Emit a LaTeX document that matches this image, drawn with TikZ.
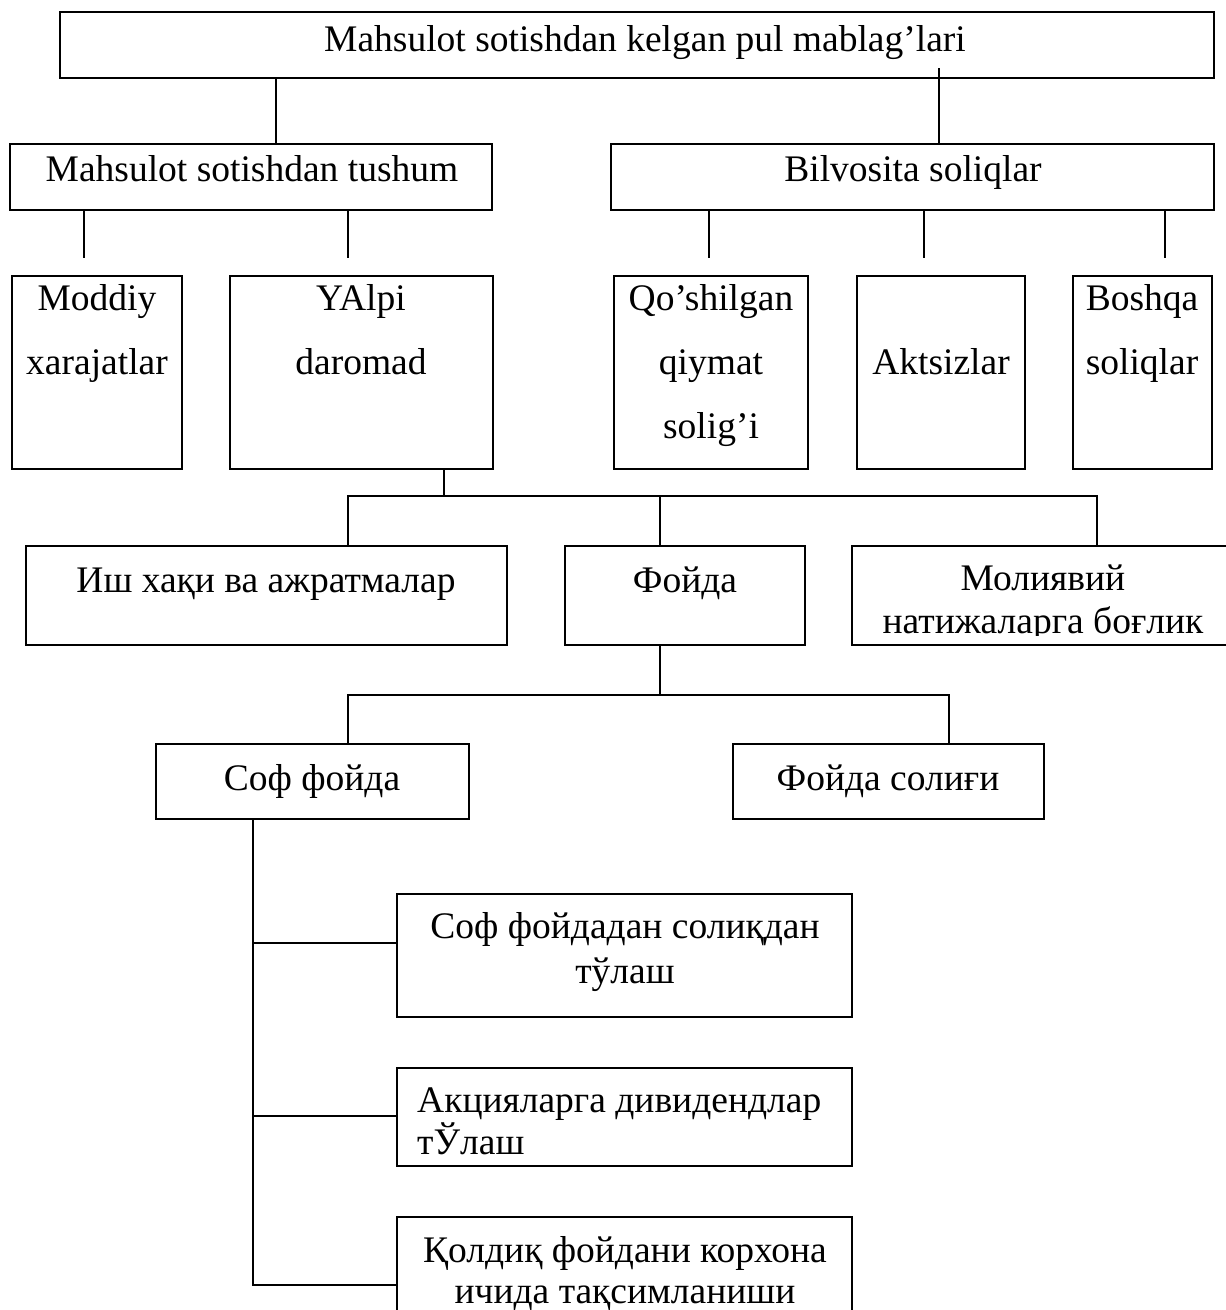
\documentclass[tikz,border=0pt]{standalone}
\usepackage{fontspec}
\setmainfont{Liberation Serif}
\begin{document}
\begin{tikzpicture}[x=1pt,y=-1pt,
  frame/.style={draw=black,line width=2pt,inner sep=0pt,outer sep=0pt,anchor=north west},
  link/.style={draw=black,line width=1.5pt},
  txt/.style={anchor=base,inner sep=0pt,font=\fontsize{37.5}{44}\selectfont},
  txtl/.style={txt,anchor=base west}]
% frame box: name, left, top, right, bottom
\newcommand\blk[5]{\node[frame,minimum width={#4-#2},minimum height={#5-#3}] (#1) at (#2,#3) {};}
% one line of text on its baseline: name, x, y, text
\newcommand\tline[4]{\node[txt] (#1) at (#2,#3) {#4};}
\clip (0,0) rectangle (1226,1310);
\fill[white] (0,0) rectangle (1226,1310);

% ---- level 1
\blk{top}{60}{12}{1214}{78}
\tline{topT}{645}{51}{Mahsulot sotishdan kelgan pul mablag’lari}

% ---- level 2
\blk{tushum}{10}{144}{492}{210}
\tline{tushumT}{252}{181}{Mahsulot sotishdan tushum}
\blk{bilv}{611}{144}{1214}{210}
\tline{bilvT}{913}{181}{Bilvosita soliqlar}

% ---- level 3
\blk{moddiy}{12}{276}{182}{469}
\tline{moddiyA}{97}{310}{Moddiy}
\tline{moddiyB}{97}{374}{xarajatlar}
\blk{yalpi}{230}{276}{493}{469}
\tline{yalpiA}{361}{310}{YAlpi}
\tline{yalpiB}{361}{374}{daromad}
\blk{qqs}{614}{276}{808}{469}
\tline{qqsA}{711}{310}{Qo’shilgan}
\tline{qqsB}{711}{374}{qiymat}
\tline{qqsC}{711}{438}{solig’i}
\blk{akts}{857}{276}{1025}{469}
\tline{aktsA}{941}{374}{Aktsizlar}
\blk{boshqa}{1073}{276}{1212}{469}
\tline{boshqaA}{1142}{310}{Boshqa}
\tline{boshqaB}{1142}{374}{soliqlar}

% ---- level 4
\blk{ish}{26}{546}{507}{645}
\tline{ishT}{266}{592}{Иш хақи ва ажратмалар}
\blk{foyda}{565}{546}{805}{645}
\tline{foydaT}{685}{592}{Фойда}
\blk{mol}{852}{546}{1240}{645}
\begin{scope}
  \clip (852,546) rectangle (1226,635);
  \tline{molA}{1043}{590}{Молиявий}
  \tline{molB}{1043}{633}{натижаларга боғлик}
\end{scope}

% ---- level 5
\blk{sof}{156}{744}{469}{819}
\tline{sofT}{312}{790}{Соф фойда}
\blk{fsol}{733}{744}{1044}{819}
\tline{fsolT}{888}{790}{Фойда солиғи}

% ---- level 6
\blk{pay}{397}{894}{852}{1017}
\tline{payA}{625}{938}{Соф фойдадан солиқдан}
\tline{payB}{625}{983}{тўлаш}
\blk{div}{397}{1068}{852}{1166}
\node[txtl] (divA) at (417,1112) {Акцияларга дивидендлар};
\node[txtl] (divB) at (417,1154) {тЎлаш};
\blk{rest}{397}{1217}{852}{1340}
\tline{restA}{625}{1262}{Қолдиқ фойдани корхона}
\tline{restB}{625}{1303}{ичида тақсимланиши}

% ---- column positions of the connectors
\coordinate (cA) at (276,0);
\coordinate (cB) at (939,68);
\coordinate (c1) at (84,258);
\coordinate (c2) at (348,258);
\coordinate (c3) at (709,258);
\coordinate (c4) at (924,258);
\coordinate (c5) at (1165,258);
\coordinate (busY) at (444,496);
\coordinate (k1) at (348,0);
\coordinate (k2) at (660,0);
\coordinate (k3) at (1097,0);
\coordinate (busF) at (660,695);
\coordinate (m1) at (348,0);
\coordinate (m2) at (949,0);
\coordinate (trunk) at (253,0);
\coordinate (r1) at (0,943);
\coordinate (r2) at (0,1116);
\coordinate (r3) at (0,1285);

% level 1 -> level 2
\draw[link] (top.south -| cA) -- (tushum.north -| cA);
\draw[link] (cB) -- (bilv.north -| cB);

% level 2 -> level 3 (open stubs)
\foreach \c/\b in {c1/tushum,c2/tushum,c3/bilv,c4/bilv,c5/bilv}
  \draw[link] (\b.south -| \c) -- (\c);

% gross income -> level 4
\draw[link] (yalpi.south -| busY) -- (busY);
\draw[link] (ish.north -| k1) |- (busY -| k3) -- (mol.north -| k3);
\draw[link] (busY -| k2) -- (foyda.north -| k2);

% profit -> level 5
\draw[link] (foyda.south -| busF) -- (busF);
\draw[link] (sof.north -| m1) |- (busF -| m2) -- (fsol.north -| m2);

% net profit -> level 6
\draw[link] (sof.south -| trunk) -- (trunk |- r3) -- (rest.west |- r3);
\draw[link] (trunk |- r1) -- (pay.west |- r1);
\draw[link] (trunk |- r2) -- (div.west |- r2);
\end{tikzpicture}
\end{document}
